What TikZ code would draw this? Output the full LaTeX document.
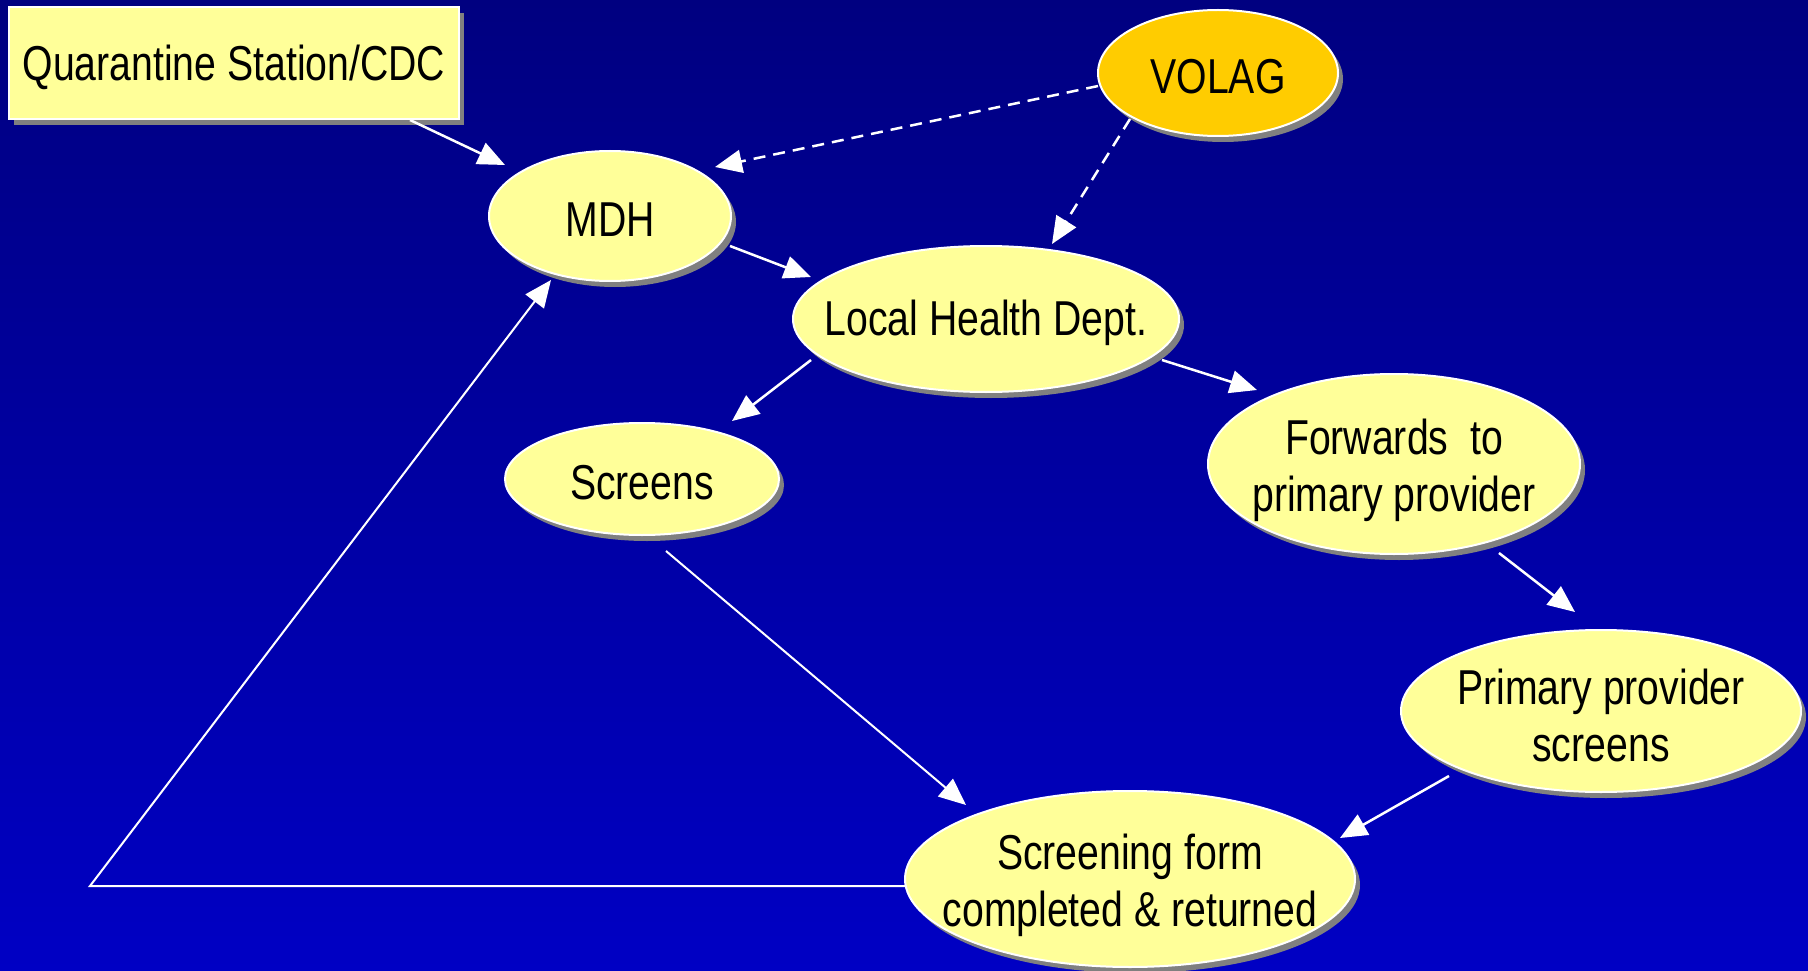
\documentclass[tikz,border=0pt]{standalone}
\usepackage{fontspec}
\setmainfont[FakeStretch=0.8]{Liberation Sans}
\usetikzlibrary{shapes.geometric,arrows.meta,shadows,calc}
\definecolor{lyel}{HTML}{FFFF99}
\definecolor{gold}{HTML}{FFCC00}
\definecolor{topblue}{HTML}{000080}
\definecolor{botblue}{HTML}{0000C4}
\begin{document}
\begin{tikzpicture}[x=1pt,y=-1pt,
  shad/.style={drop shadow={shadow xshift=5pt,shadow yshift=-6pt,fill=black!50,opacity=1}},
  el/.style={ellipse, fill=lyel, draw=white, line width=2pt, inner sep=0pt, shad},
  txt/.style={font=\fontsize{49}{57}\selectfont, align=center, text=black, inner sep=0pt, yshift=-4pt},
  conn/.style={draw=white, line width=2.5pt, -{Triangle[length=27pt,width=23pt]}},
  dconn/.style={conn, dash pattern=on 12pt off 8pt}]
\useasboundingbox (0,0) rectangle (1808,971);
\shade[top color=topblue, bottom color=botblue] (0,0) rectangle (1808,971);

% nodes
\node[draw=white, fill=lyel, line width=2pt, minimum width=450pt, minimum height=112pt, inner sep=0pt, shad] (q) at (234,63) {};
\node[txt] (qt) at (q) {Quarantine Station/CDC};

\node[el, minimum width=242pt, minimum height=130pt] (mdh) at (610,216) {};
\node[txt] (mdht) at (mdh) {MDH};

\node[el, fill=gold, minimum width=240pt, minimum height=126pt] (volag) at (1218,73) {};
\node[txt] (volagt) at (volag) {VOLAG};

\node[el, minimum width=386pt, minimum height=146pt] (lhd) at (986,319) {};
\node[txt] (lhdt) at (lhd) {Local Health Dept.};

\node[el, minimum width=274pt, minimum height=112pt] (scr) at (642,479) {};
\node[txt] (scrt) at (scr) {Screens};

\node[el, minimum width=372pt, minimum height=180pt] (fwd) at (1394,464) {};
\node[txt] (fwdt) at ($(fwd)+(0,2)$) {Forwards\ \ to\\primary provider};

\node[el, minimum width=400pt, minimum height=162pt] (pps) at (1601,711) {};
\node[txt] (ppst) at (pps) {Primary provider\\screens};

\node[el, minimum width=450pt, minimum height=176pt] (sf) at (1130,879) {};
\node[txt] (sft) at ($(sf)+(0,2)$) {Screening form\\completed \& returned};

\coordinate (bend) at (90,886);

% connectors
\draw[conn] ($(q.south east)+(-50,0)$) -- ($(mdh)+(-105,-51)$);
\draw[dconn] ($(volag)+(-120,13)$) -- ($(mdh)+(105,-49)$);
\draw[dconn] ($(volag)+(-88,46)$) -- ($(lhd)+(66,-75)$);
\draw[conn] ($(mdh)+(120,30)$) -- ($(lhd)+(-175,-42)$);
\draw[conn] ($(lhd)+(-175,41)$) -- ($(scr)+(90,-58)$);
\draw[conn] ($(lhd)+(176,41)$) -- ($(fwd)+(-137,-74)$);
\draw[conn] ($(fwd)+(105,89)$) -- ($(pps)+(-26,-99)$);
\draw[conn] ($(pps)+(-152,65)$) -- ($(sf)+(210,-41)$);
\draw[conn, line width=2pt] ($(scr)+(24,72)$) -- ($(sf)+(-164,-74)$);
\draw[conn, line width=2pt] ($(sf)+(-225,7)$) -- (bend) -- ($(mdh)+(-59,64)$);
\end{tikzpicture}
\end{document}
